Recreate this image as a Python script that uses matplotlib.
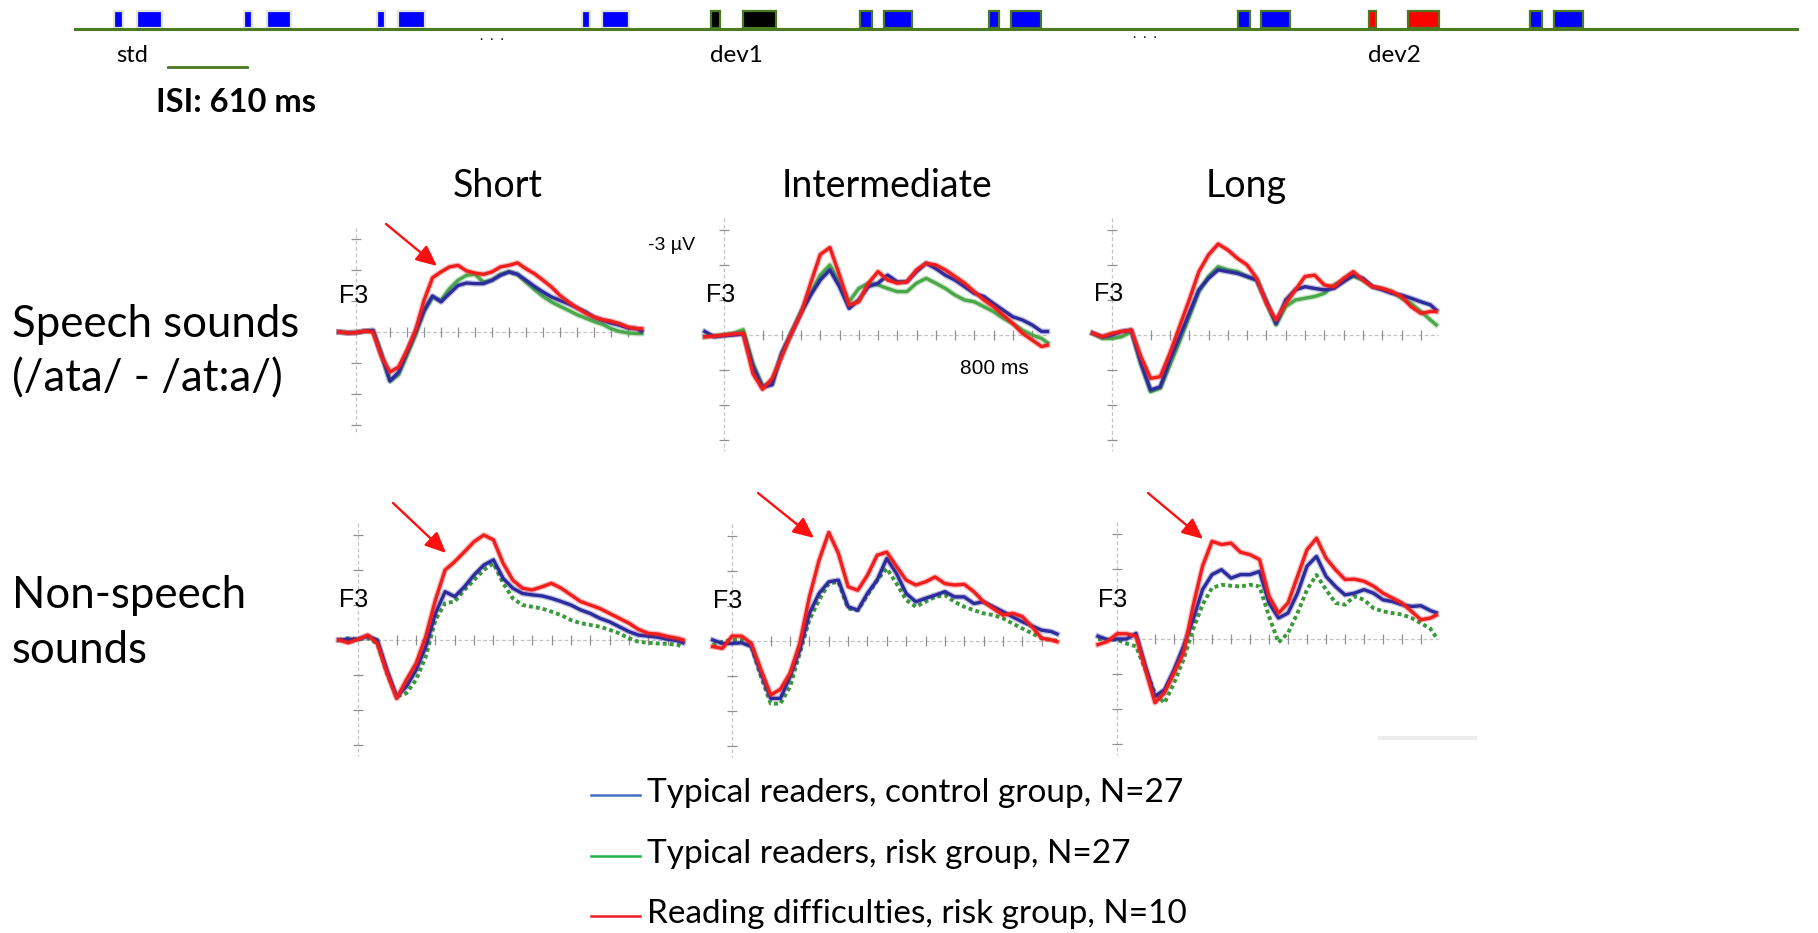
import numpy as np
import matplotlib.pyplot as plt

W, H = 1818, 933

# time grid (ms) shared by all waveforms
t_ms = np.r_[np.arange(-50, 826, 25), 840]

# F3 difference waves (µV); negative is plotted up
speech_short_ctrl = [0, 0.03, 0.02, -0.03, -0.05, 0.75, 1.58, 1.3, 0.65, 0.0, -0.7, -1.16, -0.97, -1.24, -1.5, -1.58, -1.56, -1.56, -1.67, -1.83, -1.94, -1.86, -1.67, -1.47, -1.29, -1.13, -1.02, -0.91, -0.78, -0.65, -0.48, -0.38, -0.29, -0.22, -0.13, -0.11, -0.03]
speech_short_risk = [0, 0.02, 0.02, -0.02, -0.05, 0.7, 1.58, 1.38, 0.75, 0.1, -0.65, -1.13, -1.02, -1.4, -1.67, -1.83, -1.86, -1.61, -1.67, -1.86, -1.94, -1.86, -1.61, -1.37, -1.15, -0.97, -0.83, -0.7, -0.56, -0.45, -0.34, -0.25, -0.11, -0.02, 0.03, 0.05, 0.05]
speech_short_rd = [0, 0.03, 0.02, -0.03, 0.0, 0.8, 1.29, 1.13, 0.59, -0.05, -1.02, -1.75, -1.94, -2.1, -2.15, -1.97, -1.9, -1.86, -1.94, -2.1, -2.15, -2.23, -2.04, -1.88, -1.67, -1.45, -1.18, -0.97, -0.78, -0.61, -0.48, -0.4, -0.35, -0.27, -0.16, -0.11, -0.11]

speech_inter_ctrl = [-0.1, 0.05, 0.02, 0, -0.03, 0.9, 1.5, 1.42, 0.52, -0.05, -0.62, -1.14, -1.57, -1.86, -1.38, -0.76, -1.0, -1.38, -1.48, -1.71, -1.52, -1.52, -1.81, -2.05, -1.9, -1.71, -1.57, -1.38, -1.19, -1.1, -0.9, -0.71, -0.52, -0.43, -0.29, -0.1, -0.1]
speech_inter_risk = [0.05, 0.03, 0.0, -0.05, -0.15, 0.81, 1.45, 1.38, 0.52, -0.05, -0.67, -1.19, -1.71, -2.0, -1.48, -0.95, -1.33, -1.48, -1.43, -1.33, -1.24, -1.24, -1.48, -1.62, -1.48, -1.33, -1.14, -1.0, -0.95, -0.81, -0.67, -0.48, -0.33, -0.14, 0.0, 0.1, 0.22]
speech_inter_rd = [0.05, 0.03, 0, -0.03, -0.05, 1.1, 1.55, 1.24, 0.62, -0.05, -0.62, -1.48, -2.3, -2.5, -1.71, -0.86, -0.95, -1.48, -1.81, -1.57, -1.48, -1.52, -1.86, -2.05, -2.0, -1.86, -1.67, -1.48, -1.24, -1.0, -0.81, -0.57, -0.33, -0.05, 0.14, 0.33, 0.29]

speech_long_ctrl = [-0.05, 0.05, 0, -0.1, -0.14, 0.81, 1.57, 1.48, 0.71, 0.05, -0.62, -1.29, -1.62, -1.86, -1.81, -1.76, -1.67, -1.57, -0.95, -0.33, -1.0, -1.29, -1.38, -1.33, -1.29, -1.33, -1.52, -1.71, -1.62, -1.38, -1.29, -1.19, -1.14, -1.05, -0.95, -0.86, -0.71]
speech_long_risk = [-0.05, 0.1, 0.1, 0.05, -0.1, 0.81, 1.62, 1.52, 0.86, 0.19, -0.52, -1.24, -1.67, -1.95, -1.86, -1.81, -1.67, -1.57, -0.95, -0.29, -0.81, -1.0, -1.05, -1.1, -1.19, -1.43, -1.57, -1.68, -1.57, -1.38, -1.33, -1.24, -1.05, -0.9, -0.67, -0.43, -0.29]
speech_long_rd = [-0.05, 0.05, -0.05, -0.1, -0.14, 0.62, 1.24, 1.19, 0.52, -0.24, -1.0, -1.81, -2.29, -2.6, -2.43, -2.19, -2.0, -1.62, -0.9, -0.43, -0.9, -1.29, -1.67, -1.71, -1.43, -1.38, -1.62, -1.81, -1.57, -1.38, -1.33, -1.24, -1.1, -0.81, -0.62, -0.67, -0.67]

nonsp_short_ctrl = [0, -0.02, -0.02, -0.11, 0, 0.86, 1.62, 1.33, 0.86, 0.19, -0.76, -1.38, -1.24, -1.52, -1.86, -2.14, -2.29, -1.76, -1.48, -1.33, -1.29, -1.26, -1.19, -1.1, -1.0, -0.86, -0.76, -0.62, -0.52, -0.38, -0.24, -0.14, -0.11, -0.08, -0.02, 0.02, 0.08]
nonsp_short_risk = [0, -0.05, -0.02, -0.05, 0.1, 0.95, 1.62, 1.52, 1.14, 0.48, -0.57, -1.05, -1.1, -1.43, -1.71, -2.0, -2.19, -1.62, -1.19, -1.0, -0.95, -0.9, -0.81, -0.71, -0.57, -0.48, -0.43, -0.38, -0.29, -0.19, -0.05, 0.05, 0.08, 0.1, 0.11, 0.14, 0.19]
nonsp_short_rd = [0, 0.08, -0.02, -0.14, 0.1, 0.95, 1.67, 1.14, 0.67, -0.1, -1.14, -2.0, -2.24, -2.52, -2.81, -3.0, -2.86, -2.19, -1.71, -1.48, -1.43, -1.52, -1.62, -1.48, -1.29, -1.1, -1.0, -0.9, -0.76, -0.62, -0.48, -0.3, -0.19, -0.17, -0.1, -0.05, 0]

nonsp_inter_ctrl = [-0.03, 0.07, 0.07, 0.05, 0.16, 0.93, 1.64, 1.64, 1.02, 0.26, -0.79, -1.36, -1.69, -1.74, -0.98, -0.88, -1.36, -1.74, -2.36, -1.93, -1.36, -1.12, -1.22, -1.31, -1.41, -1.26, -1.26, -1.07, -1.12, -0.98, -0.84, -0.69, -0.55, -0.43, -0.31, -0.27, -0.2]
nonsp_inter_risk = [0.11, 0.02, -0.03, -0.03, 0.16, 1.02, 1.79, 1.79, 1.31, 0.35, -0.6, -1.17, -1.64, -1.69, -0.93, -0.88, -1.31, -1.74, -2.07, -1.64, -1.17, -0.98, -1.12, -1.26, -1.31, -1.12, -0.98, -0.88, -0.79, -0.74, -0.65, -0.5, -0.36, -0.22, -0.08, -0.03, -0.01]
nonsp_inter_rd = [0.16, 0.21, -0.14, -0.14, 0.07, 0.83, 1.54, 1.38, 0.92, 0.07, -1.26, -2.31, -3.1, -2.5, -1.55, -1.45, -1.88, -2.45, -2.54, -2.13, -1.74, -1.6, -1.69, -1.83, -1.64, -1.6, -1.62, -1.41, -1.12, -0.93, -0.74, -0.79, -0.7, -0.41, -0.08, -0.03, 0.02]

nonsp_long_ctrl = [-0.08, 0.02, 0, 0, -0.16, 0.78, 1.64, 1.45, 0.88, 0.21, -0.55, -1.41, -1.84, -1.98, -1.74, -1.84, -1.84, -1.93, -1.03, -0.6, -0.74, -1.31, -2.08, -2.36, -1.79, -1.5, -1.26, -1.31, -1.41, -1.31, -1.12, -1.07, -0.98, -0.93, -0.95, -0.81, -0.75]
nonsp_long_risk = [0, 0.02, 0.02, 0.13, 0.21, 0.88, 1.55, 1.83, 1.26, 0.59, -0.27, -0.98, -1.46, -1.55, -1.52, -1.5, -1.55, -1.5, -0.65, 0.1, -0.17, -0.74, -1.41, -1.83, -1.41, -1.03, -0.98, -1.22, -1.12, -0.88, -0.79, -0.74, -0.7, -0.6, -0.45, -0.29, -0.05]
nonsp_long_rd = [0.16, 0.07, -0.15, -0.15, -0.08, 0.88, 1.82, 1.54, 0.97, 0.4, -0.93, -2.08, -2.79, -2.7, -2.74, -2.48, -2.41, -2.27, -1.22, -0.74, -1.03, -1.79, -2.55, -2.88, -2.31, -1.98, -1.7, -1.71, -1.65, -1.51, -1.31, -1.17, -1.03, -0.79, -0.55, -0.6, -0.68]

col_titles = ["Short", "Intermediate", "Long"]
row_labels = ["Speech sounds\n(/ata/ - /at:a/)", "Non-speech\nsounds"]
groups = ["Typical readers, control group, N=27",
          "Typical readers, risk group, N=27",
          "Reading difficulties, risk group, N=10"]

# stimulus train at the top: (left, right) of short and long boxes, fill
stim_small = [(114, 123), (244, 252), (377, 385), (582, 590), (711, 720),
              (860, 872), (989, 999), (1238, 1250), (1369, 1376), (1530, 1542)]
stim_big = [(137, 162), (267, 291), (398, 425), (602, 629), (743, 776),
            (884, 912), (1011, 1041), (1261, 1290), (1408, 1439), (1554, 1583)]
stim_fill = ["blue"] * 4 + ["black", "blue", "blue", "blue", "red", "blue"]

waves = [
    [(speech_short_ctrl, speech_short_risk, speech_short_rd),
     (speech_inter_ctrl, speech_inter_risk, speech_inter_rd),
     (speech_long_ctrl, speech_long_risk, speech_long_rd)],
    [(nonsp_short_ctrl, nonsp_short_risk, nonsp_short_rd),
     (nonsp_inter_ctrl, nonsp_inter_risk, nonsp_inter_rd),
     (nonsp_long_ctrl, nonsp_long_risk, nonsp_long_rd)],
]

# panel placement in pixels: origin x, origin y, px per ms, px per µV
geom = [
    [(356, 332, 0.34, 31), (724, 335, 0.385, 35), (1112, 335, 0.386, 35)],
    [(358, 640, 0.387, 35), (732, 641, 0.387, 35), (1117, 639, 0.38, 35)],
]
f3_pos = [[(354, 296), (721, 295), (1109, 294)],
          [(354, 600), (728, 601), (1113, 600)]]
arrows = [((386, 224), (437, 266)), ((393, 503), (446, 553)),
          ((758, 493), (814, 538)), ((1148, 493), (1203, 539))]

BLUE, GREEN, RED = "#2c2c9c", "#4aa84a", "#f21d1d"
LBLUE, LGREEN, LRED = "#4472c4", "#22b14c", "#ee1c24"
SANS = ["Lato", "DejaVu Sans"]
ARIAL = ["Liberation Sans", "DejaVu Sans"]

fig = plt.figure(figsize=(W / 100, H / 100), dpi=100)

XMIN, XMAX, YLIM = -60, 860, 3.5
for r in range(2):
    for c in range(3):
        x0, y0, sx, sy = geom[r][c]
        left = x0 + XMIN * sx
        top = y0 - YLIM * sy
        ax = fig.add_axes([left / W, 1 - (top + 2 * YLIM * sy) / H,
                           (XMAX - XMIN) * sx / W, 2 * YLIM * sy / H])
        ax.set_xlim(XMIN, XMAX)
        ax.set_ylim(YLIM, -YLIM)
        ax.axis("off")
        # dashed axes with ticks
        ax.plot([0, 0], [-3.35, 3.3], color="#c4c4c4", lw=0.9, ls=(0, (3, 2)))
        ax.plot([-50, 845], [0, 0], color="#c4c4c4", lw=0.9, ls=(0, (3, 2)))
        yt = [-3, -2, -1, 1, 2, 3]
        ax.plot([0] * len(yt), yt, ls="none", marker="_", ms=7, mew=0.9, color="#909090")
        xt = np.arange(100, 801, 50)
        ax.plot(xt, np.zeros(len(xt)), ls="none", marker="|", ms=7, mew=0.9, color="#909090")

        ctrl, risk, rd = waves[r][c]
        if r == 0:
            ax.plot(t_ms, risk, color=GREEN, lw=4.2, alpha=0.3)
            ax.plot(t_ms, risk, color=GREEN, lw=2.4)
        else:
            ax.plot(t_ms, risk, color="#3a9a3a", lw=2.8, ls=(0, (1, 0.8)))
        ax.plot(t_ms, ctrl, color=BLUE, lw=4.2, alpha=0.3)
        ax.plot(t_ms, ctrl, color=BLUE, lw=2.4)
        ax.plot(t_ms, rd, color=RED, lw=4.2, alpha=0.3)
        ax.plot(t_ms, rd, color=RED, lw=2.4)

# overlay in pixel coordinates for text, arrows and the stimulus train
ov = fig.add_axes([0, 0, 1, 1])
ov.set_xlim(0, W)
ov.set_ylim(H, 0)
ov.axis("off")

OLIVE = "#4a7a22"
ov.plot([75, 1797], [29, 29], color=OLIVE, lw=2.2)
for i, ((a0, a1), (b0, b1)) in enumerate(zip(stim_small, stim_big)):
    ec = "#e4e4da" if i < 4 else OLIVE
    for x_0, x_1 in [(a0, a1), (b0, b1)]:
        ov.add_patch(plt.Rectangle((x_0, 11), x_1 - x_0, 17, facecolor=stim_fill[i],
                                   edgecolor=ec, lw=1.6))
ov.plot([168, 247], [67, 67], color=OLIVE, lw=2)
ov.text(132, 55, "std", fontsize=17, family=SANS, ha="center", va="center")
ov.text(736, 56, "dev1", fontsize=17.5, family=SANS, ha="center", va="center")
ov.text(1394, 56, "dev2", fontsize=17.5, family=SANS, ha="center", va="center")
ov.text(492, 36, ".  .  .", fontsize=10, family=SANS, ha="center", va="center")
ov.text(1145, 34, ".  .  .", fontsize=10, family=SANS, ha="center", va="center")
ov.text(156, 103, "ISI: 610 ms", fontsize=23.5, family=SANS, weight="bold", ha="left", va="center")

for x, title in zip([498, 887, 1246], col_titles):
    ov.text(x, 186, title, fontsize=27, family=SANS, ha="center", va="center")
ov.text(12, 352, row_labels[0], fontsize=31.5, family=SANS, ha="left", va="center",
        linespacing=1.4)
ov.text(12, 623, row_labels[1], fontsize=31.5, family=SANS, ha="left", va="center",
        linespacing=1.4)

for row in f3_pos:
    for x, y in row:
        ov.text(x, y, "F3", fontsize=18, family=ARIAL, ha="center", va="center")
ov.text(672, 246, "-3 µV", fontsize=14, family=ARIAL, ha="center", va="center")
ov.text(994, 368, "800 ms", fontsize=15, family=ARIAL, ha="center", va="center")

for tail, tip in arrows:
    ov.annotate("", xy=tip, xytext=tail,
                arrowprops=dict(arrowstyle="-|>,head_length=0.55,head_width=0.25",
                                color="#ff1010", lw=1.7,
                                mutation_scale=23, shrinkA=0, shrinkB=0))

ov.plot([1380, 1475], [738, 738], color="#ececec", lw=3)

for y, label, col in zip([795, 856, 916], groups, [LBLUE, LGREEN, LRED]):
    ov.plot([591, 640], [y, y], color=col, lw=1.8)
    ov.text(647, y - 2, label, fontsize=24, family=SANS, ha="left", va="center")

fig.savefig("out.png", dpi=100)
